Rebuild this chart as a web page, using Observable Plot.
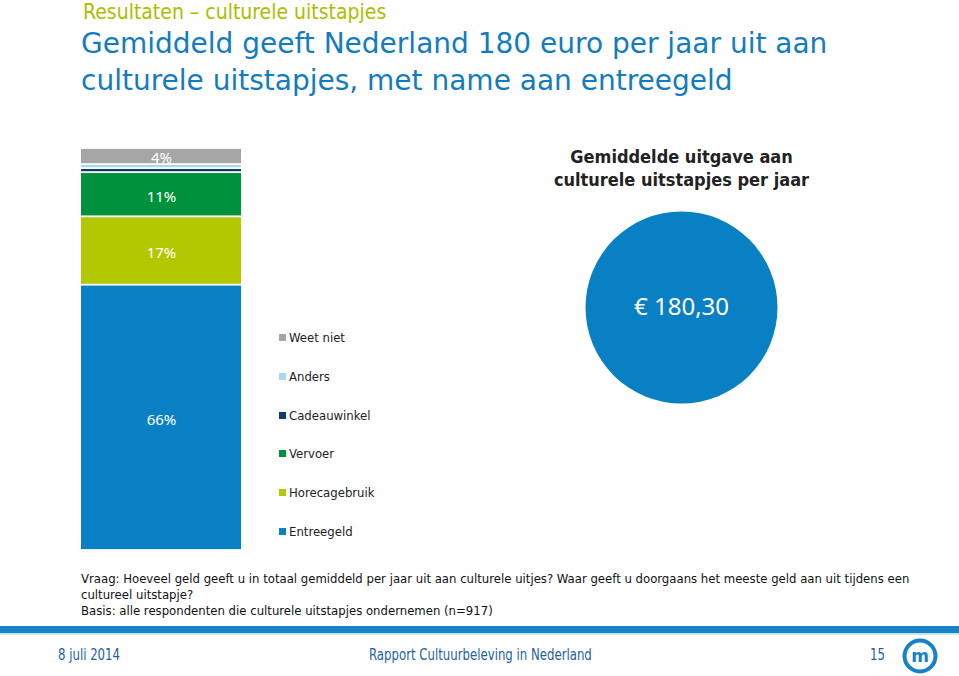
<!DOCTYPE html>
<html>
<head>
<meta charset="utf-8">
<script src="https://cdn.jsdelivr.net/npm/d3@7"></script>
<script src="https://cdn.jsdelivr.net/npm/@observablehq/plot@0.6"></script>
<style>
  html, body { margin: 0; padding: 0; background: #fff; }
  #page { position: relative; width: 959px; height: 676px; overflow: hidden; font-family: "DejaVu Sans Condensed", "DejaVu Sans", sans-serif; }
  .abs { position: absolute; }
  #kicker { left: 83px; top: 0px; font-size: 21px; color: #a9c000; white-space: nowrap; }
  #title { left: 81px; top: 25px; font-family: "DejaVu Sans", sans-serif; font-size: 28px; line-height: 37px; color: #137cbf; white-space: nowrap; }
  .legend-item { position: absolute; left: 279px; font-size: 13px; color: #222; white-space: nowrap; }
  .legend-item span.sw { display: inline-block; width: 7px; height: 7px; margin-right: 3px; vertical-align: 1px; }
  #note { left: 81px; top: 571px; font-size: 13px; line-height: 16px; color: #111; white-space: nowrap; }
  #band { left: 0; top: 626px; width: 959px; height: 7px; background: #1683c6; }
  #band2 { left: 0; top: 633px; width: 959px; height: 2px; background: #cfe3f2; }
  .foot { top: 646px; font-family: "DejaVu Sans Condensed", sans-serif; font-size: 15px; color: #1d5f9f; white-space: nowrap; transform: scaleX(0.87); transform-origin: left center; }
  svg { overflow: visible; }
</style>
</head>
<body>
<div id="page">
  <div id="kicker" class="abs">Resultaten – culturele uitstapjes</div>
  <div id="title" class="abs">Gemiddeld geeft Nederland 180 euro per jaar uit aan<br>culturele uitstapjes, met name aan entreegeld</div>
  <div id="bar" class="abs" style="left:81px; top:138px;"></div>
  <div id="legend"></div>
  <div id="bubble" class="abs" style="left:531px; top:140px;"></div>
  <div id="note" class="abs">Vraag: Hoeveel geld geeft u in totaal gemiddeld per jaar uit aan culturele uitjes? Waar geeft u doorgaans het meeste geld aan uit tijdens een<br>cultureel uitstapje?<br>Basis: alle respondenten die culturele uitstapjes ondernemen (n=917)</div>
  <div id="band" class="abs"></div>
  <div id="band2" class="abs"></div>
  <div class="abs foot" style="left:58px;">8 juli 2014</div>
  <div class="abs foot" style="left:369px;">Rapport Cultuurbeleving in Nederland</div>
  <div class="abs foot" style="left:870px;">15</div>
  <svg class="abs" style="left:901px; top:637px;" width="38" height="38">
    <circle cx="19" cy="19" r="15.5" fill="none" stroke="#1683c6" stroke-width="4"/>
    <text x="19" y="25" text-anchor="middle" font-family="DejaVu Sans" font-weight="bold" font-size="17" fill="#1683c6">m</text>
  </svg>
</div>
<script>
// Data
const categories = ["Entreegeld", "Horecagebruik", "Vervoer", "Cadeauwinkel", "Anders", "Weet niet"];
const shares = [66, 17, 11, 1, 1, 4];
const colors = ["#0a80c4", "#b3c800", "#00913c", "#0d3c6e", "#a9d8ee", "#a6a6a6"];
const averageSpend = 180.30;
const averageLabel = "€ 180,30";
const bubbleTitle = ["Gemiddelde uitgave aan", "culturele uitstapjes per jaar"];

const rows = categories.map((c, i) => ({category: c, value: shares[i], group: "Totaal"}));

const bar = Plot.plot({
  width: 160,
  height: 412,
  marginTop: 10,
  marginBottom: 0,
  marginLeft: 0,
  marginRight: 0,
  x: {type: "band", domain: ["Totaal"], padding: 0, axis: null},
  y: {domain: [0, 100], axis: null},
  color: {domain: categories, range: colors},
  marks: [
    Plot.barY(rows, Plot.stackY({x: "group", y: "value", z: "category", fill: "category", order: categories, insetTop: 0.9, insetBottom: 0.9})),
    Plot.text(rows, Plot.stackY({x: "group", y: "value", z: "category", order: categories,
      text: d => d.value >= 4 ? d.value + "%" : "",
      dy: 2, fill: "white", fontSize: 15, fontFamily: "Noto Sans, sans-serif"}))
  ]
});
document.getElementById("bar").appendChild(bar);

// Legend (top to bottom: reverse of stacking order)
const legend = document.getElementById("legend");
const legendOrder = categories.map((c, i) => i).reverse();
legendOrder.forEach((i, k) => {
  const div = document.createElement("div");
  div.className = "legend-item";
  div.style.top = (330 + k * 38.8) + "px";
  div.innerHTML = `<span class="sw" style="background:${colors[i]}"></span>${categories[i]}`;
  legend.appendChild(div);
});

// Bubble with average spend
const bubble = Plot.plot({
  width: 300,
  height: 270,
  margin: 0,
  marks: [
    Plot.text([bubbleTitle.join("\n")], {frameAnchor: "top", dy: 5, lineAnchor: "top", fontSize: 18, fontWeight: "bold", fill: "#222", lineHeight: 1.33, fontFamily: "DejaVu Sans Condensed, sans-serif"}),
    Plot.dot([averageSpend], {frameAnchor: "middle", dy: 32, r: 96, fill: "#0a80c4", stroke: "none"}),
    Plot.text([averageLabel], {frameAnchor: "middle", dy: 32, fill: "white", fontSize: 24, fontFamily: "Noto Sans, sans-serif"})
  ]
});
document.getElementById("bubble").appendChild(bubble);
</script>
</body>
</html>
